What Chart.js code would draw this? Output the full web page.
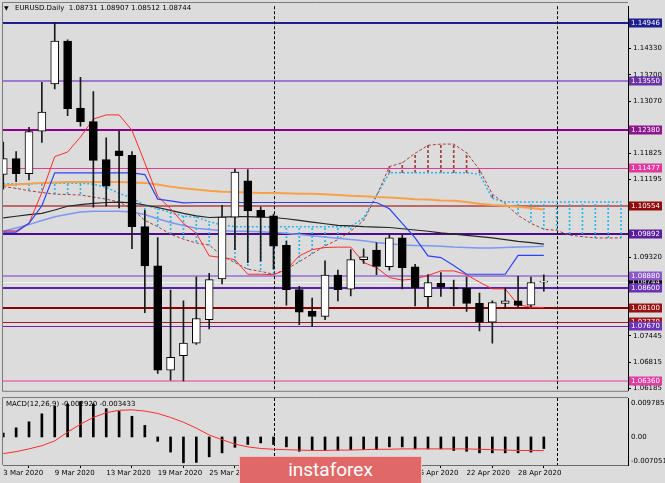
<!DOCTYPE html>
<html>
<head>
<meta charset="utf-8">
<script src="https://cdn.jsdelivr.net/npm/chart.js@4.4.1/dist/chart.umd.min.js"></script>
<style>
html, body { margin: 0; padding: 0; background: #dcdcdc; overflow: hidden; }
#wrap { position: relative; width: 665px; height: 483px; }
#main { position: absolute; left: 0; top: 0; }
#macd { position: absolute; left: 0; top: 397px; }
#logo {
	position: absolute; left: 239px; top: 456px; width: 181px; height: 27px;
	background: #e06868; border: 1px solid #f4c4c4; border-bottom: none;
	color: #fff; font-family: Roboto, sans-serif; font-size: 19px; line-height: 26px;
	text-align: center;
}
</style>
</head>
<body>
<div id="wrap">
	<canvas id="main" width="665" height="397"></canvas>
	<canvas id="macd" width="665" height="86"></canvas>
	<div id="logo">instaforex</div>
</div>
<script>
// EURUSD daily, 3 Mar 2020 .. 30 Apr 2020 (bar index 0..42)
var open  = [1.1131,1.1169,1.1133,1.1235,1.1348,1.1451,1.1290,1.1258,1.1167,1.1188,
             1.1177,1.1006,1.0912,1.0662,1.0697,1.0727,1.0783,1.0881,1.1029,1.1116,
             1.1045,1.1032,1.0961,1.0855,1.0803,1.0791,1.0890,1.0856,1.0927,1.0950,
             1.0910,1.0979,1.0910,1.0838,1.0871,1.0860,1.0859,1.0822,1.0777,1.0822,
             1.0828,1.0818,1.08731];
var high  = [1.1209,1.1186,1.1244,1.1352,1.1495,1.1454,1.1364,1.1330,1.1219,1.1235,
             1.1186,1.1045,1.0980,1.0854,1.0828,1.0886,1.0894,1.1057,1.1144,1.1143,
             1.1053,1.1036,1.0971,1.0863,1.0835,1.0924,1.0902,1.0951,1.0953,1.0967,
             1.0986,1.0986,1.0916,1.0891,1.0896,1.0878,1.0885,1.0847,1.0828,1.0859,
             1.0887,1.0885,1.08907];
var low   = [1.1096,1.1114,1.1118,1.1208,1.1336,1.1272,1.1247,1.1053,1.1055,1.1051,
             1.0953,1.0800,1.0654,1.0638,1.0636,1.0724,1.0761,1.0869,1.0951,1.0920,
             1.0924,1.0905,1.0818,1.0771,1.0767,1.0783,1.0828,1.0840,1.0918,1.0891,
             1.0902,1.0857,1.0816,1.0813,1.0839,1.0816,1.0803,1.0756,1.0727,1.0810,
             1.0813,1.0814,1.08512];
var close = [1.1169,1.1133,1.1234,1.1281,1.1451,1.1289,1.1258,1.1165,1.1103,1.1176,
             1.1006,1.0912,1.0662,1.0693,1.0727,1.0786,1.0879,1.1029,1.1137,1.1044,
             1.1029,1.0959,1.0855,1.0801,1.0791,1.0890,1.0855,1.0927,1.0934,1.0911,
             1.0979,1.0908,1.0859,1.0872,1.0861,1.0857,1.0822,1.0777,1.0824,1.0828,
             1.0817,1.0872,1.08744];

// Ichimoku
var tenkan = [1.0996,1.0996,1.1014,1.1088,1.1174,1.1185,1.1221,1.1264,1.1274,1.1274,
              1.1237,1.1159,1.1079,1.1049,1.1014,1.0990,1.0936,1.0932,1.0927,1.0892,
              1.0892,1.0891,1.0903,1.0936,1.0951,1.0956,1.0957,1.0957,1.0920,1.0908,
              1.0884,1.0878,1.0881,1.0889,1.0900,1.0900,1.0891,1.0873,1.0857,1.0857,
              1.0819,1.0813,1.0812];
var kijun  = [1.0993,1.0993,1.1014,1.1056,1.1135,1.1135,1.1135,1.1135,1.1135,1.1135,
              1.1135,1.1131,1.1072,1.1068,1.1063,1.1064,1.1064,1.1064,1.1064,1.1064,
              1.1064,1.1064,1.1064,1.1064,1.1064,1.1064,1.1064,1.1064,1.1064,1.1064,
              1.1049,1.1014,1.0979,1.0936,1.0932,1.0913,1.0892,1.0892,1.0892,1.0892,
              1.0937,1.0937,1.0937];
// cloud runs 6 bars past the last candle
var spanA  = [1.1102,1.1098,1.1092,1.1088,1.1084,1.1083,1.1082,1.1077,1.1072,1.1065,
              1.1049,1.1021,1.1006,1.0988,1.0976,1.0967,1.0962,1.0936,1.0920,1.0904,
              1.0899,1.0892,1.0904,1.0922,1.0941,1.0960,1.0975,1.0995,1.1021,1.1079,
              1.1150,1.1159,1.1182,1.1201,1.1204,1.1204,1.1183,1.1143,1.1084,1.1061,
              1.1033,1.1014,1.1000,1.0997,1.0986,1.0982,1.0979,1.0979,1.0979];
var spanB  = [1.1109,1.1109,1.1109,1.1110,1.1110,1.1110,1.1110,1.1108,1.1100,1.1086,
              1.1075,1.1057,1.1049,1.1040,1.1031,1.1029,1.1018,1.1010,1.1006,1.1006,
              1.1006,1.1006,1.1006,1.1006,1.1006,1.1006,1.1006,1.1006,1.1027,1.1081,
              1.1135,1.1135,1.1135,1.1135,1.1135,1.1135,1.1135,1.1132,1.1074,1.1065,
              1.1065,1.1065,1.1065,1.1065,1.1065,1.1065,1.1065,1.1065,1.1065];

// moving averages
var maOrange = [1.1105,1.1107,1.1109,1.1111,1.1112,1.1113,1.1113,1.1113,1.1113,1.1113,
                1.1112,1.1111,1.1107,1.1102,1.1098,1.1095,1.1092,1.1090,1.1089,1.1088,
                1.1087,1.1087,1.1086,1.1085,1.1085,1.1084,1.1082,1.1080,1.1079,1.1077,
                1.1076,1.1074,1.1072,1.1071,1.1069,1.1068,1.1065,1.1061,1.1058,1.1056,
                1.1054,1.1051,1.1047];
var maBlack  = [1.1027,1.1031,1.1035,1.1038,1.1046,1.1055,1.1059,1.1062,1.1064,1.1065,
                1.1063,1.1058,1.1052,1.1045,1.1038,1.1032,1.1028,1.1029,1.1030,1.1030,
                1.1029,1.1028,1.1025,1.1021,1.1017,1.1013,1.1009,1.1008,1.1006,1.1005,
                1.1004,1.1001,1.0998,1.0995,1.0991,1.0988,1.0985,1.0982,1.0979,1.0975,
                1.0971,1.0968,1.0964];
var maBlue   = [1.0995,1.1003,1.1011,1.1021,1.1030,1.1036,1.1041,1.1043,1.1043,1.1043,
                1.1041,1.1035,1.1025,1.1016,1.1009,1.1002,1.0999,1.0996,1.0995,1.0995,
                1.0994,1.0992,1.0990,1.0987,1.0984,1.0981,1.0978,1.0975,1.0972,1.0968,
                1.0965,1.0962,1.0961,1.0960,1.0959,1.0957,1.0956,1.0955,1.0955,1.0956,
                1.0957,1.0958,1.0959];

// MACD(12,26,9)
var macdMain   = [0.0010,0.0023,0.0038,0.0058,0.0077,0.0083,0.0089,0.0083,0.0071,0.0064,
                  0.0052,0.0029,-0.0011,-0.0038,-0.0065,-0.0064,-0.0050,-0.0040,-0.0026,-0.0019,
                  -0.0015,-0.0019,-0.0025,-0.0036,-0.0034,-0.0034,-0.0034,-0.0032,-0.0032,-0.0032,
                  -0.0025,-0.0025,-0.0030,-0.0030,-0.0030,-0.0034,-0.0036,-0.0040,-0.0040,-0.0040,
                  -0.0040,-0.0038,-0.00292];
var macdSignal = [-0.0042,-0.0037,-0.0030,-0.0022,-0.0010,0.0012,0.0032,0.0049,0.0061,0.0067,
                  0.0068,0.0065,0.0059,0.0049,0.0037,0.0022,0.0005,-0.0007,-0.0018,-0.0025,
                  -0.0029,-0.0031,-0.0032,-0.0033,-0.0034,-0.0034,-0.0033,-0.0033,-0.0032,-0.0031,
                  -0.0031,-0.0030,-0.0030,-0.0030,-0.0030,-0.0030,-0.0030,-0.0031,-0.0032,-0.0033,
                  -0.0034,-0.0034,-0.003433];

// horizontal levels (1.08744 is the bid)
var levelPrices = [1.14946,1.13550,1.12380,1.11477,1.10554,1.09892,1.08744,1.08880,1.08600,1.08100,1.07770,1.07670,1.06360];
var priceTicks = [1.14330,1.13700,1.13070,1.11825,1.11195,1.09320,1.07445,1.06815,1.06185];
var macdScale = [0.009785, 0, -0.007051];
var dateTickIndex = [0,4,8,12,16,20,24,28,32,36,40];
var dateTickLabels = ['3 Mar 2020','9 Mar 2020','13 Mar 2020','19 Mar 2020','25 Mar 2020','31 Mar 2020',
                      '6 Apr 2020','10 Apr 2020','16 Apr 2020','22 Apr 2020','28 Apr 2020'];
var separators = [21, 43]; // 1 Apr, 1 May
var titleText = 'EURUSD.Daily  1.08731 1.08907 1.08512 1.08744';
var macdText = 'MACD(12,26,9) -0.002920 -0.003433';

var xMin = -0.02, xMax = 48.54;
var priceMin = 1.06126, priceMax = 1.15345;
var macdMin = -0.007051, macdMax = 0.009785;

var FONT = '7px "DejaVu Sans"';

var levelStyle = [
	{line: '#1e1e8e', box: '#1e1e8e', w: 2},
	{line: '#9c7ad4', box: '#6a32a6', w: 2},
	{line: '#8b008b', box: '#8c168e', w: 2},
	{line: '#e03c9e', box: '#e0389e', w: 1},
	{line: '#bb6a6a', box: '#900c0c', w: 2},
	{line: '#4e0c8c', box: '#5a1e9c', w: 2},
	{line: '#f2f2f2', box: '#000000', w: 1},
	{line: '#a68ad8', box: '#8a58c8', w: 2},
	{line: '#5a22a8', box: '#6a32b8', w: 2},
	{line: '#8b0000', box: '#961010', w: 2},
	{line: '#a81818', box: '#a01414', w: 1},
	{line: '#6c22b2', box: '#6c34b4', w: 1},
	{line: '#e08cbc', box: '#e03ca2', w: 2}
];

function pts(arr) {
	return arr.map(function(v, i) { return {x: i, y: v}; });
}

function stripe(color, on, off) {
	var c = document.createElement('canvas');
	c.width = 1; c.height = on + off;
	var g = c.getContext('2d');
	g.fillStyle = color;
	g.fillRect(0, 0, 1, on);
	return g.createPattern(c, 'repeat');
}

var cyanStripe = stripe('#2cb4ee', 2, 2);
var brownStripe = stripe('#a0403c', 3, 2);

var wickData = close.map(function(c, i) { return {x: i, y: [low[i], high[i]]}; });
var bodyData = close.map(function(c, i) { return {x: i, y: [open[i], close[i]]}; });
var bodyFill = close.map(function(c, i) { return c >= open[i] ? '#ffffff' : '#000000'; });
var hatchData = spanA.map(function(a, i) { return {x: i, y: [a, spanB[i]]}; });
var hatchFill = spanA.map(function(a, i) { return a > spanB[i] ? brownStripe : cyanStripe; });

function drawSeparators(chart) {
	var ctx = chart.ctx, a = chart.chartArea, xs = chart.scales.x;
	ctx.save();
	ctx.strokeStyle = '#000';
	ctx.lineWidth = 1;
	ctx.setLineDash([3, 2]);
	separators.forEach(function(i) {
		var x = Math.round(xs.getPixelForValue(i)) + 0.5;
		ctx.beginPath();
		ctx.moveTo(x, a.top);
		ctx.lineTo(x, a.bottom);
		ctx.stroke();
	});
	ctx.restore();
}

var mainDecor = {
	id: 'mainDecor',
	beforeDatasetsDraw: function(chart) {
		var ctx = chart.ctx, a = chart.chartArea, ys = chart.scales.y;
		ctx.save();
		levelPrices.forEach(function(p, k) {
			var st = levelStyle[k];
			var y = Math.round(ys.getPixelForValue(p));
			ctx.fillStyle = st.line;
			ctx.fillRect(a.left, y - Math.floor(st.w / 2), a.right - a.left, st.w);
		});
		ctx.restore();
		drawSeparators(chart);
	},
	afterDraw: function(chart) {
		var ctx = chart.ctx, a = chart.chartArea, ys = chart.scales.y;
		ctx.save();
		// frame
		ctx.strokeStyle = '#7a7a7a';
		ctx.lineWidth = 1;
		ctx.beginPath();
		ctx.moveTo(2.5, a.bottom + 0.5); ctx.lineTo(2.5, 2.5); ctx.lineTo(a.right, 2.5);
		ctx.moveTo(2.5, a.bottom + 0.5); ctx.lineTo(a.right, a.bottom + 0.5);
		ctx.stroke();
		// price labels of the levels
		ctx.font = FONT;
		ctx.textBaseline = 'middle';
		levelPrices.forEach(function(p, k) {
			var y = Math.round(ys.getPixelForValue(p));
			ctx.fillStyle = levelStyle[k].box;
			ctx.fillRect(a.right + 1, y - 4.5, 33, 9);
			ctx.fillStyle = '#ffffff';
			ctx.fillText(p.toFixed(5), a.right + 3, y + 0.5);
		});
		// title
		ctx.fillStyle = '#000';
		ctx.font = '6px "DejaVu Sans"';
		ctx.fillText('\u25BC', 4, 8.5);
		ctx.font = FONT;
		ctx.fillText(titleText, 15, 8.5);
		ctx.restore();
	}
};

var macdDecor = {
	id: 'macdDecor',
	beforeDatasetsDraw: function(chart) {
		drawSeparators(chart);
	},
	afterDraw: function(chart) {
		var ctx = chart.ctx, a = chart.chartArea, ys = chart.scales.y;
		ctx.save();
		ctx.strokeStyle = '#7a7a7a';
		ctx.lineWidth = 1;
		ctx.beginPath();
		ctx.moveTo(2.5, a.bottom); ctx.lineTo(2.5, a.top - 0.5); ctx.lineTo(a.right, a.top - 0.5);
		ctx.stroke();
		ctx.font = FONT;
		ctx.textBaseline = 'middle';
		ctx.fillStyle = '#000';
		ctx.fillText(macdText, 6, 7.5);
		macdScale.forEach(function(v) {
			var y = ys.getPixelForValue(v);
			y = Math.max(a.top + 5.5, Math.min(a.bottom - 4, y));
			ctx.fillText(v === 0 ? '0.00' : String(v), a.right + 3, y);
		});
		ctx.restore();
	}
};

var common = {
	responsive: false,
	animation: false,
	devicePixelRatio: 1,
	events: [],
	plugins: { legend: { display: false }, tooltip: { enabled: false } }
};

function lineSet(arr, color, width, order, dash) {
	return {
		type: 'line', data: pts(arr), borderColor: color, borderWidth: width,
		borderDash: dash || [], pointRadius: 0, fill: false, tension: 0, order: order
	};
}

new Chart(document.getElementById('main'), {
	type: 'bar',
	data: {
		datasets: [
			{ data: hatchData, backgroundColor: hatchFill, barThickness: 1, grouped: false, order: 20 },
			lineSet(spanA, '#a0403c', 1, 15, [3, 2]),
			lineSet(spanB, '#2cb4ee', 1.5, 15, [2, 2]),
			lineSet(maOrange, '#f8a048', 2, 12),
			lineSet(maBlue, '#7b98f2', 1.5, 12),
			lineSet(maBlack, '#262626', 1.2, 11),
			lineSet(kijun, '#2c44f0', 1.2, 10),
			lineSet(tenkan, '#ff2a2a', 1, 10),
			{ data: wickData, backgroundColor: '#1a1a1a', barThickness: 1, grouped: false, order: 3 },
			{ data: bodyData, backgroundColor: bodyFill, borderColor: '#000', borderWidth: 1,
			  borderSkipped: false, barThickness: 8, minBarLength: 1, grouped: false, order: 2 }
		]
	},
	options: Object.assign({}, common, {
		layout: { autoPadding: false, padding: { left: 3, top: 3, right: 0, bottom: 1 } },
		scales: {
			x: { type: 'linear', display: false, min: xMin, max: xMax, offset: false },
			y: {
				type: 'linear', position: 'right', min: priceMin, max: priceMax,
				afterBuildTicks: function(s) { s.ticks = priceTicks.map(function(v) { return {value: v}; }); },
				afterFit: function(s) { s.width = 37; },
				grid: { drawOnChartArea: false, drawTicks: true, tickLength: 3, color: '#000' },
				border: { display: true, color: '#000' },
				ticks: {
					autoSkip: false, padding: 2, color: '#000',
					font: { family: 'DejaVu Sans', size: 7 },
					callback: function(v) { return v.toFixed(5); }
				}
			}
		}
	}),
	plugins: [mainDecor]
});

new Chart(document.getElementById('macd'), {
	type: 'bar',
	data: {
		datasets: [
			lineSet(macdSignal, '#ff2a2a', 1, 1),
			{ data: pts(macdMain), backgroundColor: '#000', barThickness: 2, grouped: false, order: 2 }
		]
	},
	options: Object.assign({}, common, {
		layout: { autoPadding: false, padding: { left: 3, top: 1, right: 0, bottom: 0 } },
		scales: {
			x: {
				type: 'linear', position: 'bottom', min: xMin, max: xMax, offset: false,
				afterBuildTicks: function(s) { s.ticks = dateTickIndex.map(function(v) { return {value: v}; }); },
				afterFit: function(s) { s.height = 18; },
				grid: { drawOnChartArea: false, drawTicks: true, tickLength: 3, color: '#000' },
				border: { display: true, color: '#6a6a6a' },
				ticks: {
					autoSkip: false, maxRotation: 0, minRotation: 0, align: 'start', padding: 1,
					color: '#000', font: { family: 'DejaVu Sans', size: 7 },
					callback: function(v) {
						var k = dateTickIndex.indexOf(v);
						return k < 0 ? '' : dateTickLabels[k];
					}
				}
			},
			y: {
				type: 'linear', position: 'right', min: macdMin, max: macdMax,
				afterFit: function(s) { s.width = 37; },
				ticks: { display: false },
				grid: { display: false },
				border: { display: true, color: '#000' }
			}
		}
	}),
	plugins: [macdDecor]
});
</script>
</body>
</html>
